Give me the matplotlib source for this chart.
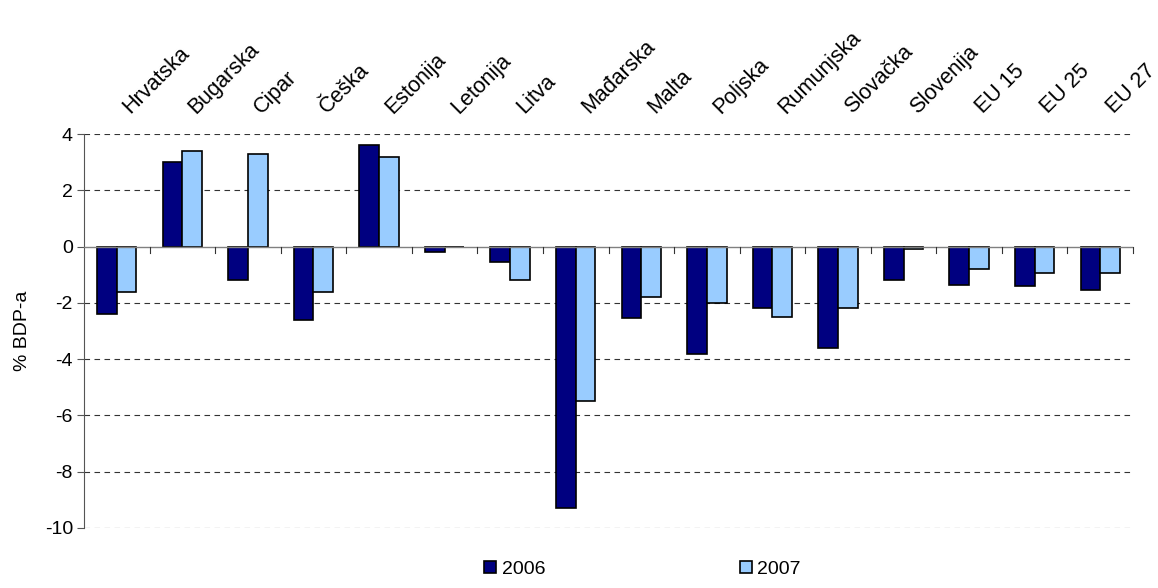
import numpy as np
import matplotlib.pyplot as plt

plt.rcParams['font.family'] = ['Liberation Sans', 'DejaVu Sans']

# --- Data ---
countries = ['Hrvatska', 'Bugarska', 'Cipar', 'Češka', 'Estonija', 'Letonija', 'Litva',
             'Mađarska', 'Malta', 'Poljska', 'Rumunjska', 'Slovačka', 'Slovenija',
             'EU 15', 'EU 25', 'EU 27']
values_2006 = [-2.4, 3.0, -1.2, -2.6, 3.6, -0.2, -0.55, -9.3, -2.55, -3.8, -2.2, -3.6, -1.2,
               -1.35, -1.4, -1.55]
values_2007 = [-1.6, 3.4, 3.3, -1.6, 3.2, 0.0, -1.2, -5.5, -1.8, -2.0, -2.5, -2.2, -0.1,
               -0.8, -0.95, -0.95]
yticks = [-10, -8, -6, -4, -2, 0, 2, 4]

color_2006 = '#000080'
color_2007 = '#99CCFF'

# --- Plotting ---
fig = plt.figure(figsize=(11.58, 5.88), dpi=100)
ax = fig.add_axes([84 / 1158, 1 - 528 / 588, (1133 - 84) / 1158, (528 - 134) / 588])

x = np.arange(len(countries))
w = 0.3
ax.bar(x - w / 2, values_2006, width=w, color=color_2006, edgecolor='black', linewidth=1.2,
       label='2006', zorder=3)
ax.bar(x + w / 2, values_2007, width=w, color=color_2007, edgecolor='black', linewidth=1.2,
       label='2007', zorder=3)

ax.set_xlim(-0.5, len(countries) - 0.5)
ax.set_ylim(-10, 4)
ax.set_yticks(yticks)
ax.set_yticklabels([str(t) for t in yticks], fontsize=14)
ax.tick_params(axis='y', length=5, color='#555555', pad=3)

# dashed gridlines
for t in yticks:
    if t != 0:
        ax.axhline(t, color='#333333', linestyle=(0, (5, 4)), linewidth=0.8, zorder=1)

# zero axis line with category boundary ticks
ax.axhline(0, color='#808080', linewidth=1.0, zorder=4)
for b in np.arange(0.5, len(countries), 1.0):
    ax.plot([b, b], [0, -0.22], color='#333333', linewidth=0.8, zorder=4, clip_on=False)

ax.set_xticks([])
for s in ['top', 'right', 'bottom']:
    ax.spines[s].set_visible(False)
ax.spines['left'].set_color('#555555')

# category labels above the plot
for xi, name in zip(x, countries):
    ax.text(xi + 0.21, 4.7, name, rotation=45, rotation_mode='anchor', ha='left',
            va='baseline', fontsize=15.5)

ax.set_ylabel('% BDP-a', fontsize=14, labelpad=10)

leg = fig.legend(loc='lower center', bbox_to_anchor=(0.555, -0.012), ncol=2, frameon=False,
                 fontsize=14, handlelength=0.6, handleheight=0.6, handletextpad=0.3,
                 columnspacing=10)

plt.savefig('out.png', dpi=100)
plt.close(fig)
